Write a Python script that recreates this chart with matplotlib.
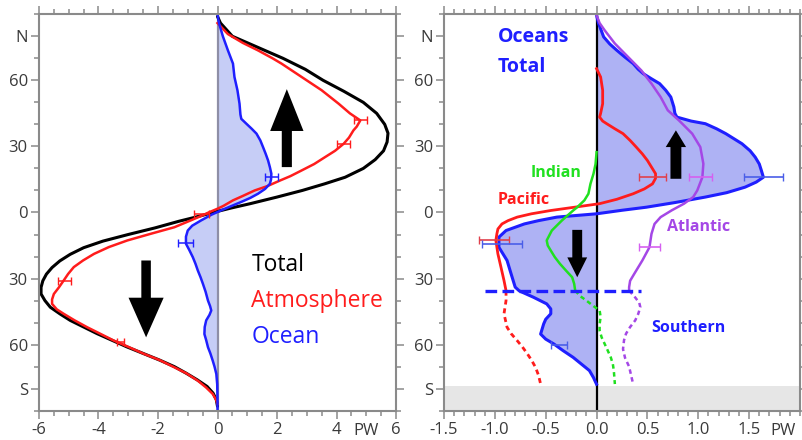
"""Poleward heat transport: total / atmosphere / ocean (left) and by ocean basin (right)."""
import matplotlib
matplotlib.use("Agg")
import matplotlib.pyplot as plt
import numpy as np
from matplotlib.ticker import FixedLocator, MultipleLocator

plt.rcParams["font.family"] = ["Open Sans", "DejaVu Sans"]

# ---- left panel: zonal mean transports (PW) vs latitude ----
total_lat = [89, 86, 80, 75, 70, 65, 60, 55, 50, 45, 40, 36, 32, 28, 24, 20, 16, 13, 10, 7, 4, 2, 0,
             -2, -4, -7, -10, -13, -16, -19, -22, -25, -28, -31, -34, -37, -40, -43, -46, -49, -52,
             -55, -58, -61, -64, -67, -70, -73, -76, -79, -82, -85, -88]
total_pw = [0, 0.1, 0.5, 1.35, 2.2, 2.95, 3.55, 4.25, 4.9, 5.35, 5.62, 5.73, 5.7, 5.58, 5.3, 4.9, 4.29,
            3.6, 2.85, 2.0, 1.1, 0.45, -0.15, -0.7, -1.3, -2.1, -3.0, -3.85, -4.5, -4.95, -5.3, -5.56,
            -5.75, -5.87, -5.93, -5.93, -5.8, -5.62, -5.3, -4.95, -4.5, -4.05, -3.55, -3.05, -2.5,
            -1.95, -1.45, -1.05, -0.68, -0.35, -0.15, -0.04, 0]

atmos_lat = [86, 81, 77, 73.6, 70, 67.6, 61.5, 55.5, 49.4, 45, 41.8, 39, 37.3, 34, 31.2, 28, 25.1, 22,
             19.1, 16.5, 14.5, 12, 10, 7.5, 5.5, 3, 1.7, 0, -1, -3.6, -6.7, -9.7, -12.7, -15.7, -18.8,
             -21.8, -24.8, -27.9, -30.9, -34, -37, -39.5, -41.5, -44, -46, -49, -52.1, -55, -58.2,
             -61, -64.2, -67, -70.3, -73, -76.4, -79.5, -82.4, -85, -87]
atmos_pw = [0, 0.35, 0.85, 1.36, 1.85, 2.15, 2.83, 3.5, 4.07, 4.45, 4.8, 4.68, 4.57, 4.42, 4.24, 3.95,
            3.61, 3.25, 2.83, 2.45, 2.1, 1.68, 1.25, 0.85, 0.52, 0.2, 0.0, -0.3, -0.45, -0.9, -1.45,
            -2.25, -3.03, -3.65, -4.15, -4.52, -4.83, -5.02, -5.17, -5.33, -5.5, -5.56, -5.56, -5.4,
            -5.17, -4.8, -4.38, -3.95, -3.48, -3.0, -2.47, -1.95, -1.45, -1.05, -0.66, -0.38, -0.16,
            -0.05, 0]

ocean_lat = [90, 86, 80, 73.6, 67.6, 61.5, 55.5, 49.4, 44.5, 42.5, 40.3, 38, 35.8, 32.7, 29.7, 26.6,
             23.6, 20.6, 17.6, 15, 13, 10.7, 8.5, 6.6, 4.8, 3, 1, -1, -3.6, -6, -8.2, -11, -14.2, -17,
             -20.3, -23.3, -26.4, -29.4, -32.4, -36, -40, -42.5, -44.5, -46.5, -49, -52, -55.2, -58,
             -61.2, -64, -67.3, -70, -73.3, -78, -85.5, -90]
ocean_pw = [0, 0.05, 0.18, 0.35, 0.52, 0.57, 0.67, 0.74, 0.77, 0.8, 0.97, 1.15, 1.31, 1.44, 1.53, 1.62,
            1.7, 1.76, 1.81, 1.8, 1.76, 1.6, 1.36, 1.1, 0.8, 0.48, 0.13, -0.2, -0.55, -0.85, -1.0,
            -1.06, -1.06, -0.95, -0.83, -0.74, -0.66, -0.57, -0.49, -0.4, -0.32, -0.25, -0.21, -0.27,
            -0.38, -0.43, -0.44, -0.38, -0.32, -0.24, -0.16, -0.1, -0.04, -0.01, 0, 0]

atmos_err_lat = [41.8, 31.2, -0.8, -30.9, -59]
atmos_err_pw = [4.8, 4.24, -0.55, -5.15, -3.25]
atmos_err = [0.22, 0.22, 0.25, 0.22, 0.12]
ocean_err_lat = [16, -14]
ocean_err_pw = [1.82, -1.08]
ocean_err = [0.22, 0.25]

# ---- right panel: ocean basins (PW) ----
oct_lat = [89.5, 85.8, 79.7, 76.5, 73.6, 70.5, 67.6, 65, 63, 60.7, 58.5, 55.5, 52.4, 47.9, 45, 43.3,
           41.5, 40.3, 38, 35.8, 31.2, 28, 25.1, 22, 19.1, 16, 13.8, 11.5, 9, 7, 4.5, 2.4, 1, -0.6,
           -2.1, -3.7, -5.2, -8.2, -11.2, -15.8, -21.8, -27.9, -33.9, -35.6, -38.5, -41.5, -43.8, -46,
           -48.5, -50.6, -55.2, -57.5, -59.7, -62.7, -65.8, -68.8, -71.8, -75, -78]
oct_pw = [0, 0.02, 0.07, 0.13, 0.2, 0.28, 0.36, 0.41, 0.46, 0.54, 0.62, 0.68, 0.73, 0.76, 0.77, 0.79,
          0.93, 1.07, 1.18, 1.27, 1.43, 1.51, 1.56, 1.6, 1.62, 1.64, 1.57, 1.46, 1.28, 1.07, 0.77, 0.49,
          0.25, 0.0, -0.39, -0.57, -0.71, -0.89, -0.96, -0.96, -0.88, -0.84, -0.8, -0.76, -0.62,
          -0.49, -0.45, -0.45, -0.5, -0.52, -0.55, -0.5, -0.42, -0.33, -0.23, -0.15, -0.07, -0.03, 0]

pac_lat = [65.3, 61.5, 55.5, 49.4, 45, 43.3, 41.5, 40.3, 38, 35.8, 32.7, 29.7, 26.6, 23.6, 20.6, 17.6,
           15.5, 13, 10.7, 8.5, 6, 4, 2.5, 0.9, -0.6, -2.1, -3.7, -5.2, -7.5, -9.7, -12.7, -18.8,
           -24.8, -30.9, -35.5]
pac_pw = [0, 0.04, 0.06, 0.06, 0.04, 0.03, 0.06, 0.1, 0.18, 0.26, 0.33, 0.39, 0.45, 0.5, 0.54, 0.58,
          0.58, 0.55, 0.47, 0.36, 0.2, 0.03, -0.2, -0.45, -0.64, -0.78, -0.87, -0.93, -0.97, -0.98,
          -0.99, -0.97, -0.94, -0.91, -0.89]
pac_so_lat = [-35.5, -40, -46, -52.1, -55, -58.2, -61, -64.2, -67, -70.3, -74, -77.9]
pac_so_pw = [-0.89, -0.89, -0.91, -0.88, -0.84, -0.78, -0.73, -0.68, -0.64, -0.6, -0.57, -0.55]

ind_lat = [27.4, 22, 17.6, 13, 8.5, 5.5, 2.4, 0.9, -3.6, -8.2, -12.7, -15, -17.3, -20.3, -23.3, -26.4,
           -29.4, -32.4, -35.5]
ind_pw = [0, -0.01, -0.03, -0.06, -0.08, -0.12, -0.19, -0.23, -0.34, -0.44, -0.49, -0.48, -0.45,
          -0.41, -0.36, -0.3, -0.24, -0.22, -0.21]
ind_so_lat = [-35.5, -38, -40, -42.5, -44.5, -47.5, -50.6, -53.6, -56.7, -59.7, -62.7, -65.8, -68.8,
              -72, -77.9]
ind_so_pw = [-0.21, -0.16, -0.1, -0.03, 0.03, 0.04, 0.03, 0.03, 0.05, 0.08, 0.11, 0.14, 0.16, 0.17, 0.18]

atl_lat = [89.5, 86, 82.7, 76.7, 70.6, 64.5, 58.5, 52.4, 46.4, 41.8, 35.8, 29.7, 22.1, 16, 10, 7, 4,
           1, -2.1, -5.2, -9.7, -15.8, -21.8, -27.9, -31, -33.9, -35.5]
atl_pw = [0, 0.03, 0.08, 0.18, 0.31, 0.44, 0.54, 0.63, 0.7, 0.81, 0.94, 1.02, 1.05, 1.04, 0.99, 0.95,
          0.86, 0.74, 0.63, 0.57, 0.54, 0.52, 0.45, 0.37, 0.33, 0.32, 0.32]
atl_so_lat = [-35.5, -38, -41, -43, -46, -49, -52, -55, -58, -62, -66, -70, -74, -78]
atl_so_pw = [0.32, 0.37, 0.42, 0.43, 0.41, 0.38, 0.33, 0.29, 0.27, 0.26, 0.28, 0.32, 0.34, 0.36]

basin_err_lat = [16, 16, 16, -12.5, -14.5, -15.5, -60]
basin_err_pw = [1.64, 0.55, 1.02, -1.01, -0.93, 0.52, -0.37]
basin_err = [0.19, 0.13, 0.11, 0.15, 0.2, 0.1, 0.08]
basin_err_col = ["#4a5ee8", "#e0404c", "#d560f0", "#e0404c", "#4a5ee8", "#d560f0", "#4a5ee8"]

southern_lat = -35.7
southern_x = (-1.1, 0.44)

lat_ticks = [-80, -60, -30, 0, 30, 60, 80]
lat_labels = ["S", "60", "30", "0", "30", "60", "N"]

RED = "#ff1c1c"
BLUE = "#1f1fff"
GREEN = "#20e020"
PURPLE = "#a447e6"
GRAY = "#8a8a8a"


def style_axes(ax, xmajor, xminor, xlim, xlabels):
    ax.set_ylim(-90, 90)
    ax.set_xlim(*xlim)
    ax.yaxis.set_major_locator(FixedLocator(lat_ticks))
    ax.set_yticklabels(lat_labels)
    ax.yaxis.set_minor_locator(MultipleLocator(10))
    ax.set_xticks(xmajor)
    ax.set_xticklabels(xlabels)
    ax.xaxis.set_minor_locator(MultipleLocator(xminor))
    for s in ax.spines.values():
        s.set_color(GRAY)
        s.set_linewidth(1.5)
    ax.tick_params(which="both", direction="out", color=GRAY, width=1.1,
                   top=True, right=True, labelsize=12, labelcolor="#3a3a3a", pad=2)
    ax.tick_params(which="major", length=6)
    ax.tick_params(which="minor", length=3.5)


fig = plt.figure(figsize=(8.02, 4.40), dpi=100)

# ---------- left ----------
ax1 = fig.add_axes([0.0486, 0.0666, 0.4452, 0.901])
style_axes(ax1, [-6, -4, -2, 0, 2, 4, 6], 0.5, (-6, 6), ["-6", "-4", "-2", "0", "2", "4", "6"])
ax1.fill_betweenx(ocean_lat, 0, ocean_pw, color="#c6cdf6", lw=0)
ax1.axvline(0, color="#8e8ea6", lw=1.6)
ax1.plot(total_pw, total_lat, color="black", lw=2.2, solid_capstyle="round")
ax1.plot(atmos_pw, atmos_lat, color=RED, lw=1.8)
ax1.plot(ocean_pw, ocean_lat, color=BLUE, lw=1.8)
ax1.errorbar(atmos_err_pw, atmos_err_lat, xerr=atmos_err, fmt="none", ecolor=RED,
             elinewidth=1.1, capsize=3)
ax1.errorbar(ocean_err_pw, ocean_err_lat, xerr=ocean_err, fmt="none", ecolor=BLUE,
             elinewidth=1.1, capsize=3)
ax1.arrow(2.33, 20.6, 0, 35.4, width=0.34, head_width=1.12, head_length=19,
          length_includes_head=True, color="black", lw=0)
ax1.arrow(-2.4, -21.8, 0, -34.9, width=0.32, head_width=1.18, head_length=18,
          length_includes_head=True, color="black", lw=0)
ax1.text(1.14, -24, "Total", color="black", fontsize=16.5, va="center")
ax1.text(1.14, -40, "Atmosphere", color=RED, fontsize=16.5, va="center")
ax1.text(1.14, -56.7, "Ocean", color=BLUE, fontsize=16.5, va="center")
ax1.text(5.0, -95.5, "PW", fontsize=12, color="#3a3a3a", ha="center", va="top")

# ---------- right ----------
ax2 = fig.add_axes([0.5536, 0.0666, 0.4439, 0.901])
style_axes(ax2, [-1.5, -1.0, -0.5, 0.0, 0.5, 1.0, 1.5], 0.1, (-1.5, 2.0),
           ["-1.5", "-1.0", "-0.5", "0.0", "0.5", "1.0", "1.5"])
ax2.axhspan(-90, -79, color="#e6e6e6", lw=0, zorder=0)
ax2.fill_betweenx(oct_lat, 0, oct_pw, color="#aeb2f4", lw=0)
ax2.axvline(0, color="black", lw=1.6)
ax2.plot(oct_pw, oct_lat, color=BLUE, lw=2.2)
ax2.plot(pac_pw, pac_lat, color=RED, lw=2.0)
ax2.plot(pac_so_pw, pac_so_lat, color=RED, lw=2.0, ls=(0, (1.8, 1.4)))
ax2.plot(ind_pw, ind_lat, color=GREEN, lw=1.8)
ax2.plot(ind_so_pw, ind_so_lat, color=GREEN, lw=1.8, ls=(0, (1.8, 1.4)))
ax2.plot(atl_pw, atl_lat, color=PURPLE, lw=1.8)
ax2.plot(atl_so_pw, atl_so_lat, color=PURPLE, lw=1.8, ls=(0, (1.8, 1.4)))
ax2.plot(southern_x, [southern_lat, southern_lat], color=BLUE, lw=2.4, ls=(0, (3.5, 1.6)))
for x, y, e, c in zip(basin_err_pw, basin_err_lat, basin_err, basin_err_col):
    ax2.errorbar([x], [y], xerr=[e], fmt="none", ecolor=c, elinewidth=1.2, capsize=3.2)
ax2.arrow(0.78, 15.3, 0, 22, width=0.107, head_width=0.2, head_length=7.6,
          length_includes_head=True, color="black", lw=0)
ax2.arrow(-0.19, -7.9, 0, -21.5, width=0.097, head_width=0.195, head_length=9,
          length_includes_head=True, color="black", lw=0)
ax2.text(-0.97, 79.5, "Oceans", color=BLUE, fontsize=14, fontweight="bold", va="center")
ax2.text(-0.97, 66, "Total", color=BLUE, fontsize=14, fontweight="bold", va="center")
ax2.text(-0.65, 17.7, "Indian", color=GREEN, fontsize=11.5, fontweight="bold", va="center")
ax2.text(-0.97, 5.5, "Pacific", color=RED, fontsize=11.5, fontweight="bold", va="center")
ax2.text(0.69, -6.8, "Atlantic", color=PURPLE, fontsize=11.5, fontweight="bold", va="center")
ax2.text(0.54, -52.3, "Southern", color=BLUE, fontsize=11.5, fontweight="bold", va="center")
ax2.text(1.83, -95.5, "PW", fontsize=12, color="#3a3a3a", ha="center", va="top")

fig.savefig("out.png", dpi=100)
